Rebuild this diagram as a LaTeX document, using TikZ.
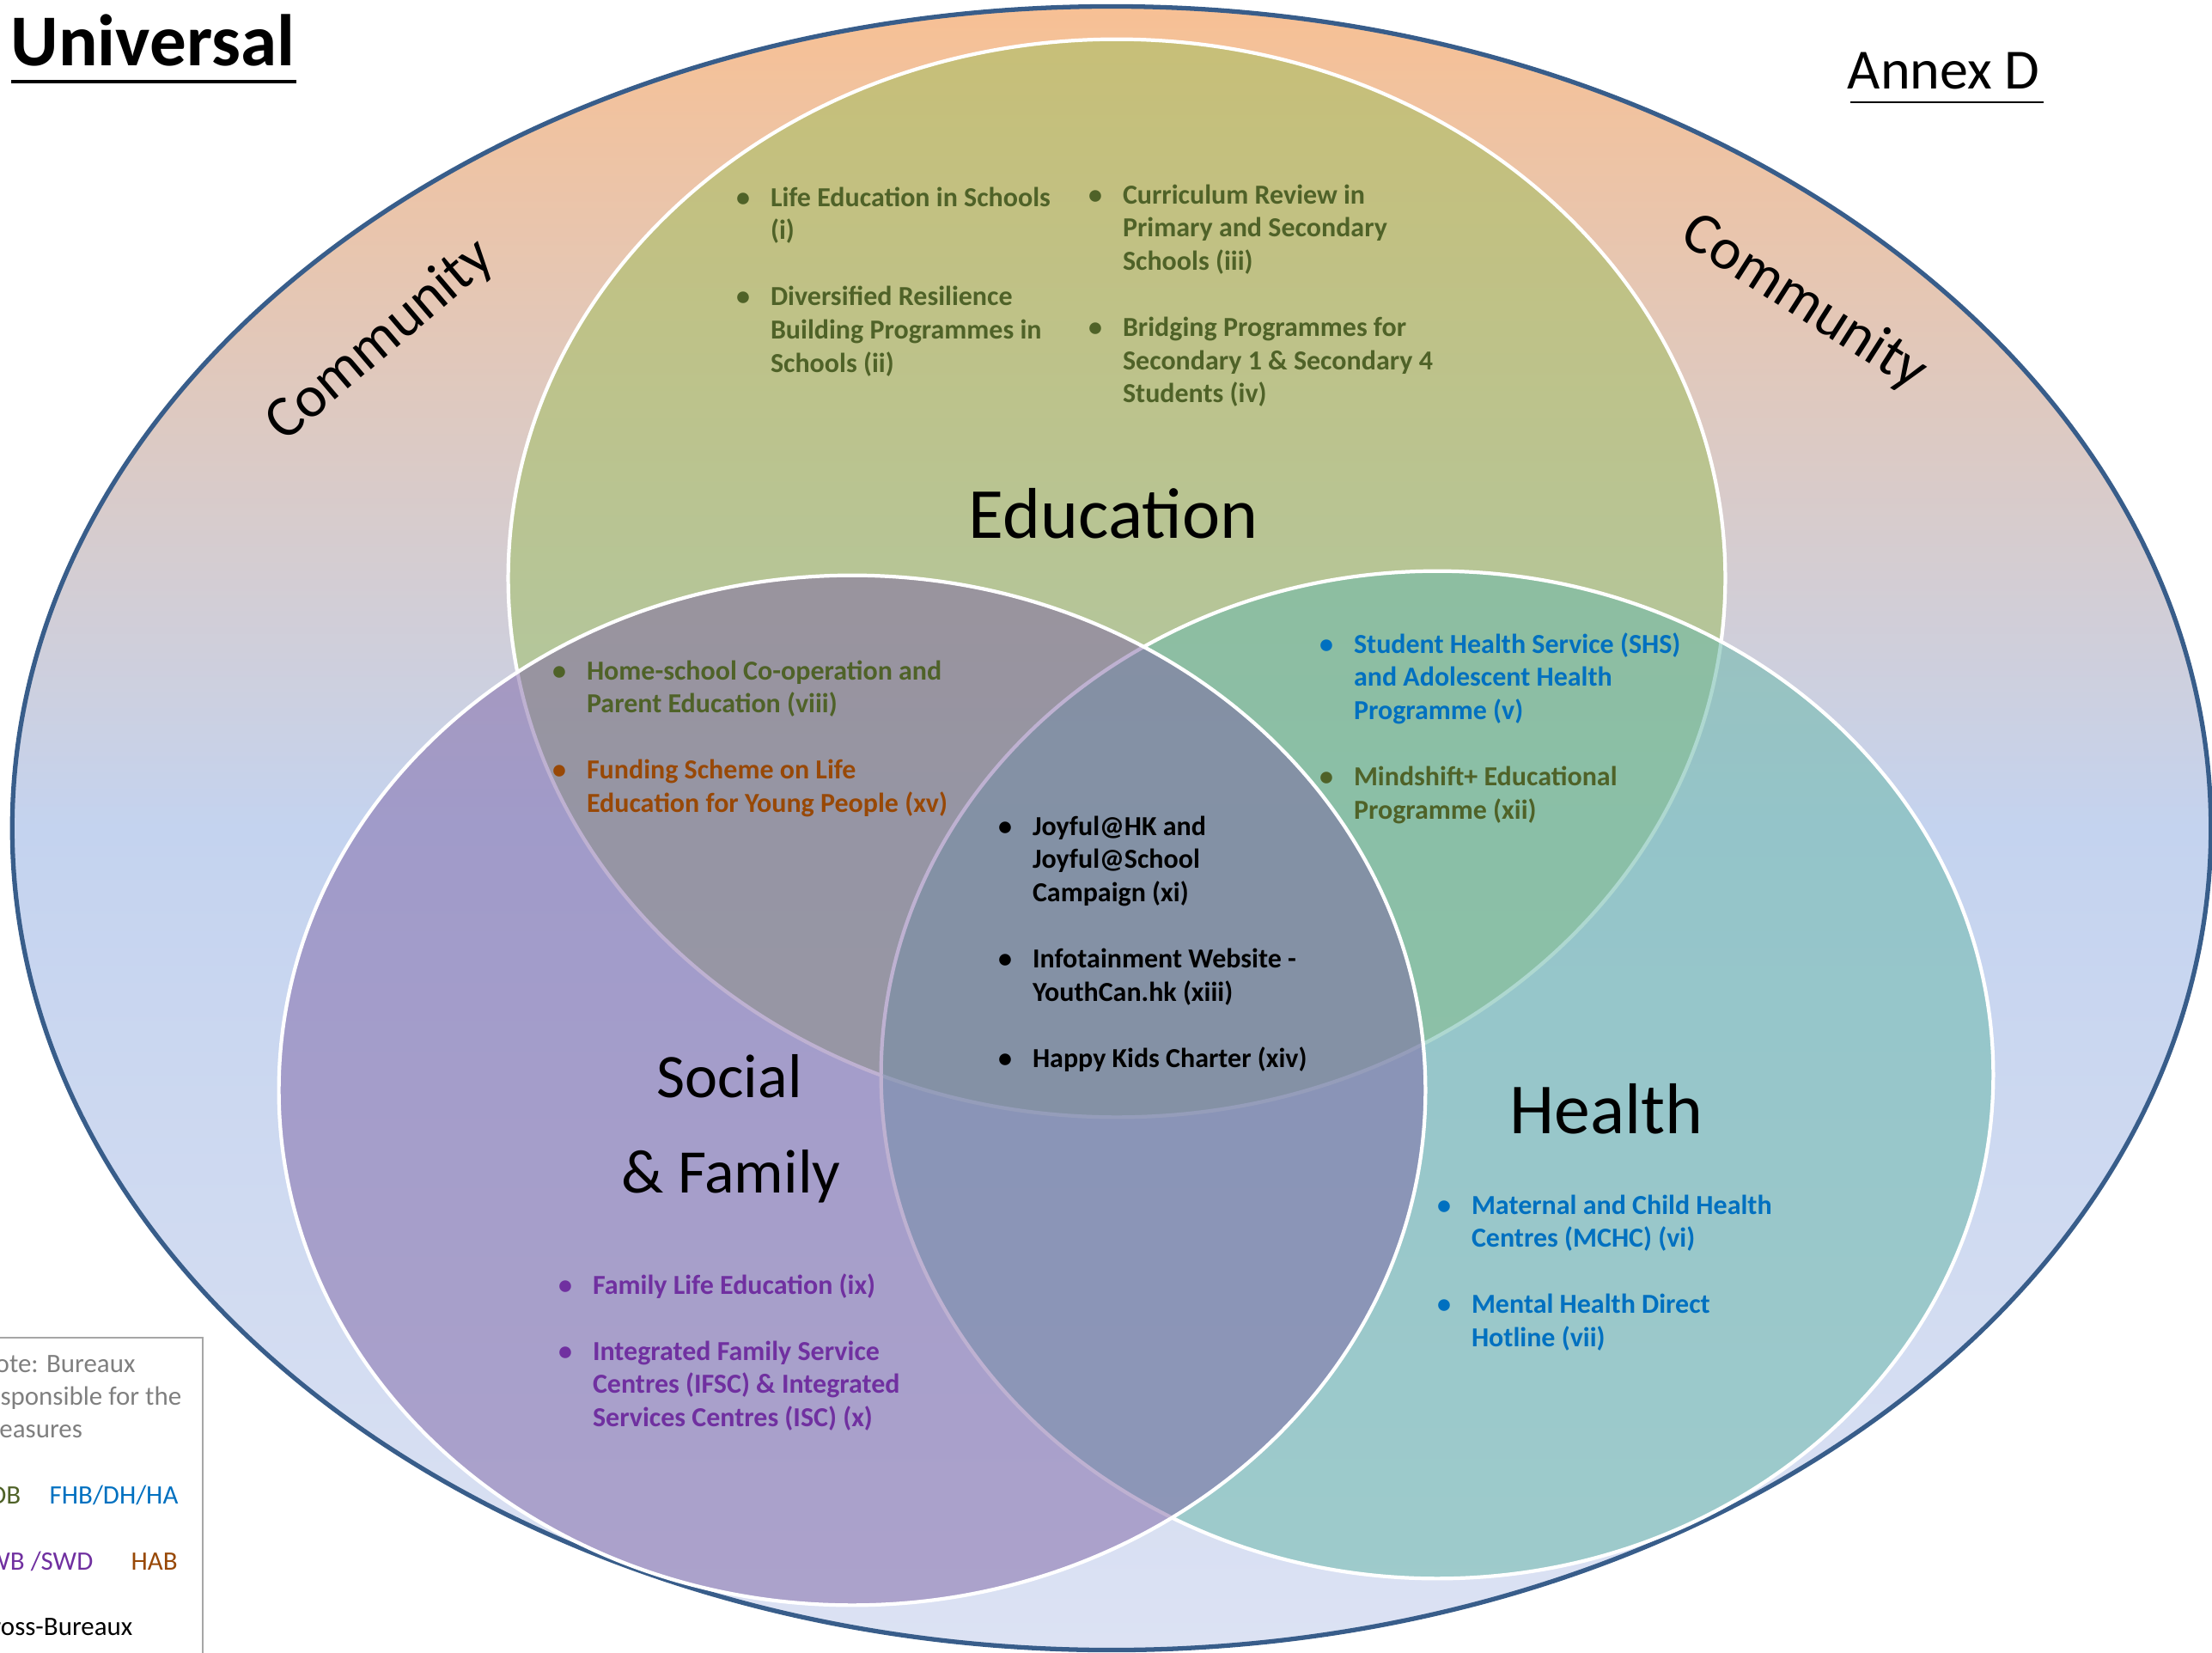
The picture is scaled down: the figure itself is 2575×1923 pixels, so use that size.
\documentclass[tikz,border=0pt]{standalone}
\usepackage{fontspec}
\setmainfont{Carlito}
\definecolor{outerline}{RGB}{56,93,138}
\definecolor{ctop}{RGB}{247,192,148}
\definecolor{cmid}{RGB}{196,211,239}
\definecolor{cbot}{RGB}{220,226,243}
\definecolor{edufill}{RGB}{155,190,90}
\definecolor{hlfill}{RGB}{109,185,171}
\definecolor{socfill}{RGB}{126,100,165}
\definecolor{tgreen}{RGB}{79,98,40}
\definecolor{tblue}{RGB}{0,112,192}
\definecolor{tpurple}{RGB}{112,48,160}
\definecolor{tbrown}{RGB}{152,72,6}
\definecolor{tgray}{RGB}{127,127,127}
\definecolor{boxgray}{RGB}{166,166,166}
\newcommand\bfsz{\fontsize{9.1}{10.98}\selectfont\bfseries}
\newcommand\bpt{\makebox[11.38pt][l]{\textbullet}}
\newcommand\ipt{\hspace*{11.38pt}}
\newcommand\igap{\\[10.98pt]}
\begin{document}
\begin{tikzpicture}[x=0.01cm,y=-0.01cm,
  blk/.style={anchor=base west, inner sep=0pt, outer sep=0pt},
  big/.style={anchor=base, inner sep=0pt, font=\fontsize{23.8}{28}\selectfont},
  mid/.style={anchor=base, inner sep=0pt, font=\fontsize{20.5}{24}\selectfont},
  comm/.style={inner sep=0pt, font=\fontsize{19.5}{23}\selectfont},
  lg/.style={inner sep=0pt, font=\fontsize{8.8}{10.6}\selectfont},
  inner/.style={draw=white, line width=1.2pt}]
\useasboundingbox (0,0) rectangle (2575,1923);
\clip (0,0) rectangle (2575,1923);
% outer community ellipse
\shade[top color=ctop, bottom color=cbot, middle color=cmid, draw=outerline, line width=1.5pt]
  (1294,964) ellipse [x radius=12.79cm, y radius=9.56cm];
% education
\draw[inner, fill=edufill, fill opacity=0.5] (1300,673) ellipse [x radius=7.08cm, y radius=6.27cm];
% health
\draw[inner, fill=hlfill, fill opacity=0.55] (1673,1251) ellipse [x radius=6.47cm, y radius=5.86cm];
% social
\draw[inner, fill=socfill, fill opacity=0.5] (992,1269) ellipse [x radius=6.67cm, y radius=5.99cm];

% titles
\node[anchor=base west, inner sep=0pt, font=\fontsize{24.2}{28}\selectfont\bfseries] (univ) at (12,76) {Universal};
\draw[line width=1pt] (13,95) -- (345,95);
\node[anchor=base west, inner sep=0pt, font=\fontsize{18.8}{22}\selectfont] (annex) at (2150,103) {Annex D};
\draw[line width=0.7pt] (2154,119) -- (2379,119);

% big labels
\node[big] (edu) at (1296,626) {Education};
\node[big] (hl) at (1870,1319) {Health};
\node[mid] (soc1) at (849,1277) {Social};
\node[mid] (soc2) at (851,1388) {\& Family};
\node[comm, rotate=40.4] (commL) at (443,397) {Community};
\node[comm, rotate=-32.6] (commR) at (2100,353) {Community};

% bullet blocks
\node[blk, text=tgreen] (eduL) at (857,240) {\parbox[t]{200pt}{\bfsz
  \bpt Life Education in Schools\\\ipt (i)\igap
  \bpt Diversified Resilience\\\ipt Building Programmes in\\\ipt Schools (ii)}};
\node[blk, text=tgreen] (eduR) at (1267,237) {\parbox[t]{200pt}{\bfsz
  \bpt Curriculum Review in\\\ipt Primary and Secondary\\\ipt Schools (iii)\igap
  \bpt Bridging Programmes for\\\ipt Secondary 1 \& Secondary 4\\\ipt Students (iv)}};
\node[blk, text=tgreen] (edsoc) at (643,791) {\parbox[t]{200pt}{\leavevmode\bfsz
  \bpt Home-school Co-operation and\\\ipt Parent Education (viii)\igap
  \color{tbrown}\bpt Funding Scheme on Life\\\ipt Education for Young People (xv)}};
\node[blk, text=tblue] (edhl) at (1536,760) {\parbox[t]{200pt}{\leavevmode\bfsz
  \bpt Student Health Service (SHS)\\\ipt and Adolescent Health\\\ipt Programme (v)\igap
  \color{tgreen}\bpt Mindshift+ Educational\\\ipt Programme (xii)}};
\node[blk, text=black] (ctr) at (1162,972) {\parbox[t]{200pt}{\bfsz
  \bpt Joyful@HK and\\\ipt Joyful@School\\\ipt Campaign (xi)\igap
  \bpt Infotainment Website -\\\ipt YouthCan.hk (xiii)\igap
  \bpt Happy Kids Charter (xiv)}};
\node[blk, text=tpurple] (socL) at (650,1506) {\parbox[t]{200pt}{\bfsz
  \bpt Family Life Education (ix)\igap
  \bpt Integrated Family Service\\\ipt Centres (IFSC) \& Integrated\\\ipt Services Centres (ISC) (x)}};
\node[blk, text=tblue] (hlL) at (1673,1413) {\parbox[t]{200pt}{\bfsz
  \bpt Maternal and Child Health\\\ipt Centres (MCHC) (vi)\igap
  \bpt Mental Health Direct\\\ipt Hotline (vii)}};

% legend
\draw[boxgray, line width=0.5pt] (-300,1557) -- (236,1557) -- (236,2000);
\node[lg, anchor=base west, text=tgray] (n1) at (-26,1597) {Note: Bureaux};
\node[lg, anchor=base west, text=tgray] (n2) at (-26,1635) {responsible for the};
\node[lg, anchor=base west, text=tgray] (n3) at (-26,1673) {measures};
\node[lg, anchor=base east, text=tgreen] (l1) at (25,1750) {EDB};
\node[lg, anchor=base west, text=tblue] (l2) at (57,1750) {FHB/DH/HA};
\node[lg, anchor=base east, text=tpurple] (l3) at (109,1827) {LWB /SWD};
\node[lg, anchor=base west, text=tbrown] (l4) at (152,1827) {HAB};
\node[lg, anchor=base east, text=black] (l5) at (155,1903) {Cross-Bureaux};
\end{tikzpicture}
\end{document}
